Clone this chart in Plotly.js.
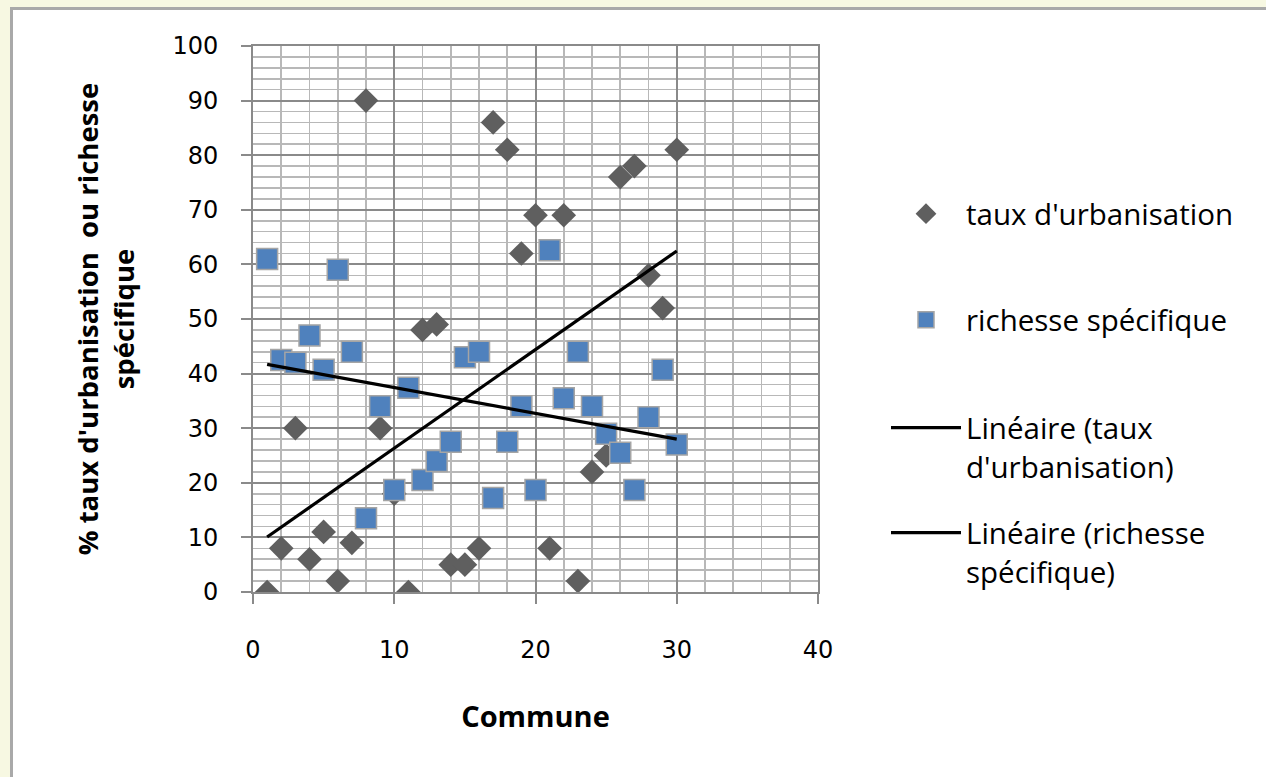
<!DOCTYPE html>
<html>
<head>
<meta charset="utf-8">
<script src="https://cdn.plot.ly/plotly-3.0.1.min.js"></script>
<style>
  html, body { margin:0; padding:0; background:#f7f8e2; overflow:hidden; }
  #frame { position:absolute; left:10px; top:7px; width:1300px; height:820px; background:#ffffff; border:3px solid #a9a9a9; box-sizing:border-box; }
  #chart { position:absolute; left:0; top:0; width:1266px; height:777px; }
</style>
</head>
<body>
<div id="frame"></div>
<div id="chart"></div>
<script>
// ---- data ----
const commune = [1,2,3,4,5,6,7,8,9,10,11,12,13,14,15,16,17,18,19,20,21,22,23,24,25,26,27,28,29,30];
const tauxUrbanisation = [0,8,30,6,11,2,9,90,30,18,0,48,49,5,5,8,86,81,62,69,8,69,2,22,25,76,78,58,52,81];
const richesseSpecifique = [61,42.5,42,47,40.7,59,44,13.5,34,18.7,37.4,20.5,24,27.5,43,44,17.2,27.5,34,18.7,62.6,35.5,44,34,29,25.5,18.7,32,40.7,27];
const seriesNames = ["taux d'urbanisation", "richesse spécifique", "Linéaire (taux<br>d'urbanisation)", "Linéaire (richesse<br>spécifique)"];
const xTitle = "Commune";
const yTitle = "% taux d'urbanisation  ou richesse<br>spécifique";

// least-squares linear trend computed from the data
function linreg(xs, ys) {
  const n = xs.length;
  const mx = xs.reduce((a,b)=>a+b,0)/n;
  const my = ys.reduce((a,b)=>a+b,0)/n;
  let sxy = 0, sxx = 0;
  for (let i=0;i<n;i++){ sxy += (xs[i]-mx)*(ys[i]-my); sxx += (xs[i]-mx)*(xs[i]-mx); }
  const b = sxy/sxx, a = my - b*mx;
  return x => a + b*x;
}
const fT = linreg(commune, tauxUrbanisation);
const fR = linreg(commune, richesseSpecifique);
const xEnds = [commune[0], commune[commune.length-1]];

const traces = [
  { type:'scatter', mode:'markers', x:commune, y:tauxUrbanisation, name:seriesNames[0], legend:'legend',
    marker:{symbol:'diamond', size:19, color:'#5f5f5f', line:{width:0}} },
  { type:'scatter', mode:'markers', x:commune, y:richesseSpecifique, name:seriesNames[1], legend:'legend2',
    marker:{symbol:'square', size:21, color:'#4f81bd', line:{width:1.5, color:'#a5a5a5'}} },
  { type:'scatter', mode:'lines', x:xEnds, y:xEnds.map(fT), name:seriesNames[2], legend:'legend3',
    line:{color:'#000000', width:3.2} },
  { type:'scatter', mode:'lines', x:xEnds, y:xEnds.map(fR), name:seriesNames[3], legend:'legend4',
    line:{color:'#000000', width:3.2} }
];

const L = 253, R = 1266-818, T = 46, B = 777-592;
const pw = 1266 - L - R, ph = 777 - T - B;
const px2x = p => (p - L)/pw;
const py2y = p => (777 - B - p)/ph;

const legFont = {family:'"Open Sans", sans-serif', size:29.5, color:'#000'};
function leg(pxLeft, pyTop){
  return { x:px2x(pxLeft), y:py2y(pyTop), xanchor:'left', yanchor:'top', bgcolor:'rgba(0,0,0,0)',
           borderwidth:0, font:legFont, itemwidth:70, valign:'top', itemclick:false };
}

const axCommon = {
  showline:true, linecolor:'#8a8a8a', linewidth:2, mirror:true,
  ticks:'outside', ticklen:10, tickcolor:'#8a8a8a', tickwidth:2,
  showgrid:true, gridcolor:'#8a8a8a', gridwidth:2, zeroline:false,
  tickfont:{family:'"DejaVu Sans", Verdana, sans-serif', size:24, color:'#000'},
  fixedrange:true
};

const layout = {
  width:1266, height:777,
  margin:{l:L, r:R, t:T, b:B, pad:0},
  paper_bgcolor:'rgba(0,0,0,0)', plot_bgcolor:'#ffffff',
  showlegend:true,
  xaxis: Object.assign({}, axCommon, {
    range:[0,40], tick0:0, dtick:10, ticklabelstandoff:25,
    minor:{dtick:2, showgrid:true, gridcolor:'#b8b8b8', gridwidth:1.6, ticks:''},
    title:{text:'<b>'+xTitle+'</b>', standoff:44, font:{family:'"Open Sans", sans-serif', size:29, color:'#000'}}
  }),
  yaxis: Object.assign({}, axCommon, {
    range:[0,100], tick0:0, dtick:10, ticklabelstandoff:18,
    minor:{dtick:2, showgrid:true, gridcolor:'#b8b8b8', gridwidth:1.6, ticks:''},
    title:{text:'<b>'+yTitle+'</b>', standoff:30, font:{family:'"Open Sans", sans-serif', size:27.5, color:'#000'}}
  }),
  legend: leg(886, 188),
  legend2: leg(886, 294),
  legend3: leg(886, 402),
  legend4: leg(886, 507)
};

Plotly.newPlot('chart', traces, layout, {displayModeBar:false, staticPlot:true});
</script>
</body>
</html>
